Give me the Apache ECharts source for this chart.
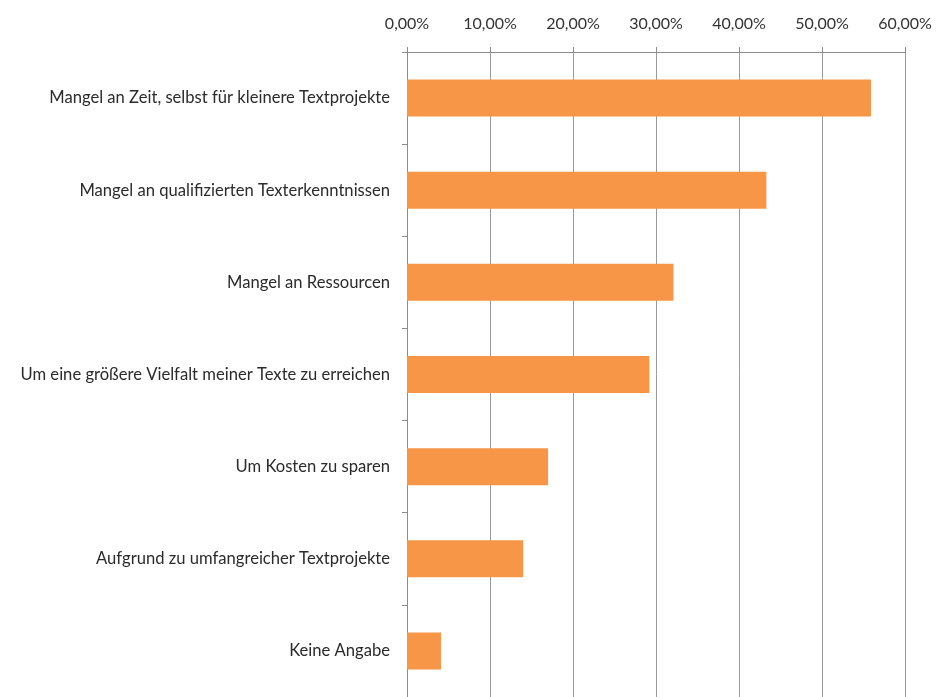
<!DOCTYPE html>
<html>
<head>
<meta charset="utf-8">
<script src="https://cdn.jsdelivr.net/npm/echarts@6/dist/echarts.min.js"></script>
<style>
  html, body { margin: 0; padding: 0; background: #fff; }
  #chart { width: 948px; height: 697px; }
</style>
</head>
<body>
<div id="chart"></div>
<script>
// Gründe, Texte auszulagern (Anteil der Nennungen in %)
const categories = [
  'Mangel an Zeit, selbst für kleinere Textprojekte',
  'Mangel an qualifizierten Texterkenntnissen',
  'Mangel an Ressourcen',
  'Um eine größere Vielfalt meiner Texte zu erreichen',
  'Um Kosten zu sparen',
  'Aufgrund zu umfangreicher Textprojekte',
  'Keine Angabe'
];
const shares = [55.9, 43.3, 32.1, 29.2, 17.0, 14.0, 4.1];
const axisMin = 0;
const axisMax = 60;
const axisStep = 10;

const chart = echarts.init(document.getElementById('chart'), null, { renderer: 'canvas' });
const fontFamily = 'Lato, "Open Sans", sans-serif';

chart.setOption({
  animation: false,
  backgroundColor: '#ffffff',
  grid: { left: 407, right: 43, top: 52, height: 648, containLabel: false },
  xAxis: {
    type: 'value',
    position: 'top',
    min: axisMin,
    max: axisMax,
    interval: axisStep,
    axisLine: { show: true, lineStyle: { color: '#8c8c8c', width: 1 } },
    axisTick: { show: true, length: 5, lineStyle: { color: '#8c8c8c' } },
    splitLine: { show: true, lineStyle: { color: '#9a9a9a', width: 1 } },
    axisLabel: {
      margin: 20,
      color: '#333333',
      fontFamily: fontFamily,
      fontSize: 16
    ,
      formatter: v => v.toFixed(2).replace('.', ',') + '%'
    }
  },
  yAxis: {
    type: 'category',
    inverse: true,
    data: categories,
    axisLine: { show: true, lineStyle: { color: '#8c8c8c', width: 1 } },
    axisTick: { show: true, length: 5, alignWithLabel: false, lineStyle: { color: '#8c8c8c' } },
    axisLabel: {
      margin: 17,
      color: '#2b2b2b',
      fontFamily: fontFamily,
      fontSize: 16.6
    }
  },
  series: [{
    type: 'bar',
    data: shares,
    barWidth: 37,
    itemStyle: { color: '#F79646' }
  }]
});
</script>
</body>
</html>
